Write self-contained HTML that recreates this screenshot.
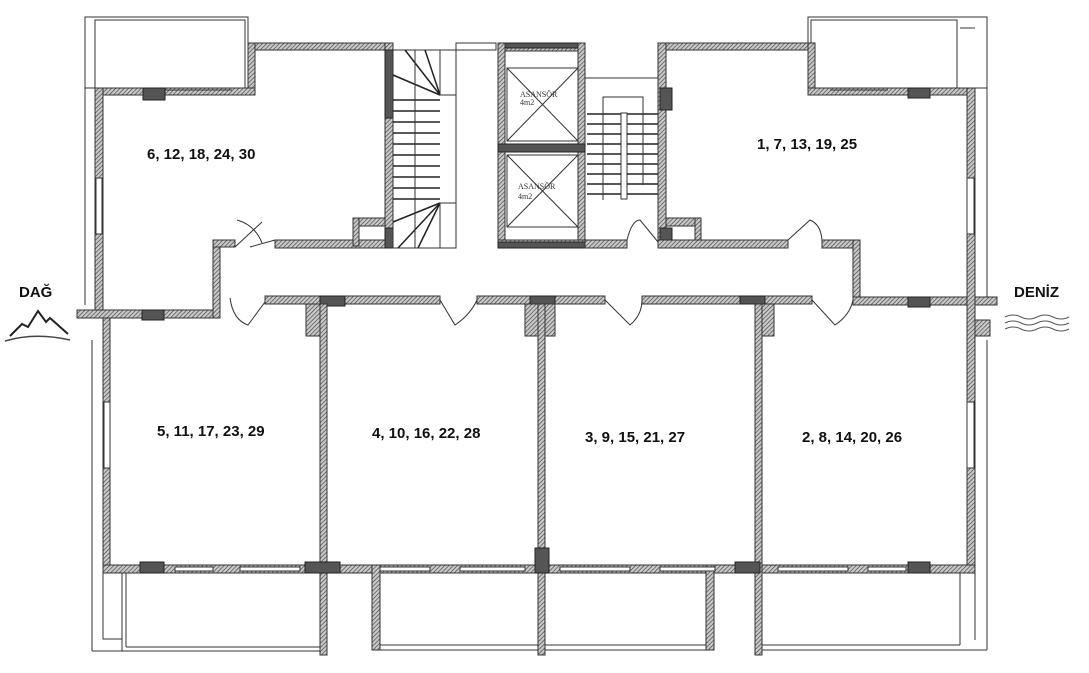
<!DOCTYPE html>
<html><head><meta charset="utf-8"><style>
html,body{margin:0;padding:0;background:#fff;}
svg{display:block}
.w{fill:url(#h);stroke:#333;stroke-width:1}
.c{fill:#555;stroke:#222;stroke-width:1}
.t{fill:none;stroke:#333;stroke-width:1}
.l{font-family:"Liberation Sans",sans-serif;font-weight:bold;font-size:15px;fill:#111}
.s{font-family:"Liberation Serif",serif;font-size:8px;fill:#333}
</style></head><body>
<svg width="1089" height="673" viewBox="0 0 1089 673" xmlns="http://www.w3.org/2000/svg">
<defs><pattern id="h" width="3" height="3" patternUnits="userSpaceOnUse" patternTransform="rotate(45)"><rect width="3" height="3" fill="#c8c8c8"/><line x1="0" y1="0" x2="0" y2="3" stroke="#444" stroke-width="1.3"/></pattern></defs>

<!-- balconies top -->
<rect class="t" x="85" y="17" width="163" height="71"/>
<rect class="t" x="95" y="20" width="150" height="68"/>
<line class="t" x1="85" y1="17" x2="85" y2="305"/>
<line class="t" x1="95" y1="20" x2="95" y2="88"/>
<rect class="t" x="808" y="17" width="179" height="71"/>
<rect class="t" x="811" y="20" width="146" height="68"/>
<line class="t" x1="987" y1="17" x2="987" y2="298"/>
<line class="t" x1="960" y1="28" x2="975" y2="28"/>

<!-- bottom balcony -->
<polyline class="t" points="103,573 103,639 122,639"/>
<line class="t" x1="122" y1="573" x2="122" y2="651"/>
<line class="t" x1="126" y1="573" x2="126" y2="647"/>
<line class="t" x1="92" y1="651" x2="322" y2="651"/>
<line class="t" x1="126" y1="647" x2="322" y2="647"/>
<line class="t" x1="380" y1="650" x2="706" y2="650"/>
<line class="t" x1="380" y1="645" x2="706" y2="645"/>
<line class="t" x1="762" y1="650" x2="987" y2="650"/>
<line class="t" x1="762" y1="645" x2="960" y2="645"/>
<line class="t" x1="960" y1="573" x2="960" y2="645"/>
<line class="t" x1="975" y1="573" x2="975" y2="640"/>
<line class="t" x1="987" y1="340" x2="987" y2="650"/>
<line class="t" x1="92" y1="340" x2="92" y2="651"/>

<!-- top-left unit -->
<rect class="w" x="248" y="43" width="140" height="7"/>
<rect class="w" x="248" y="43" width="7" height="52"/>
<rect class="w" x="95" y="88" width="160" height="7"/>
<rect class="w" x="95" y="88" width="8" height="230"/>
<rect class="w" x="77" y="310" width="143" height="8"/>
<rect class="w" x="213" y="240" width="7" height="78"/>
<rect class="w" x="213" y="240" width="22" height="7"/>
<rect class="w" x="275" y="240" width="113" height="8"/>
<rect class="w" x="385" y="43" width="8" height="205"/>
<rect class="w" x="353" y="218" width="32" height="8"/>
<rect class="w" x="353" y="218" width="6" height="28"/>
<rect class="c" x="385" y="50" width="8" height="68"/>
<rect class="c" x="385" y="228" width="8" height="20"/>
<rect class="c" x="143" y="88" width="22" height="12"/>
<rect class="c" x="142" y="310" width="22" height="10"/>
<rect x="96" y="178" width="6" height="56" fill="#fff" stroke="#333"/>
<line class="t" x1="165" y1="90" x2="232" y2="90"/>

<!-- left stair -->
<rect class="t" x="393" y="50" width="63" height="198"/>
<g stroke="#222" stroke-width="1.5">
<line x1="393" y1="100" x2="440" y2="100"/><line x1="393" y1="111" x2="440" y2="111"/><line x1="393" y1="122" x2="440" y2="122"/><line x1="393" y1="133" x2="440" y2="133"/><line x1="393" y1="144" x2="440" y2="144"/><line x1="393" y1="155" x2="440" y2="155"/><line x1="393" y1="166" x2="440" y2="166"/><line x1="393" y1="177" x2="440" y2="177"/><line x1="393" y1="188" x2="440" y2="188"/><line x1="393" y1="199" x2="440" y2="199"/>
<line x1="440" y1="95" x2="393" y2="75"/><line x1="440" y1="95" x2="405" y2="50"/><line x1="440" y1="95" x2="425" y2="50"/>
<line x1="440" y1="203" x2="393" y2="222"/><line x1="440" y1="203" x2="398" y2="248"/><line x1="440" y1="203" x2="418" y2="248"/>
</g>
<line class="t" x1="415" y1="50" x2="415" y2="248"/>
<rect class="t" x="440" y="50" width="16" height="45"/>
<rect class="t" x="440" y="203" width="16" height="45"/>
<rect class="t" x="456" y="43" width="40" height="7"/>

<!-- elevators -->
<rect class="w" x="498" y="43" width="87" height="8"/>
<rect class="c" x="498" y="43" width="87" height="5"/>
<rect class="w" x="498" y="43" width="7" height="205"/>
<rect class="w" x="578" y="43" width="7" height="205"/>
<rect class="c" x="498" y="144" width="87" height="8"/>
<rect class="w" x="498" y="240" width="87" height="8"/>
<rect class="c" x="498" y="242" width="87" height="6"/>
<rect class="t" x="507" y="68" width="71" height="73"/>
<line class="t" x1="507" y1="68" x2="578" y2="141"/><line class="t" x1="578" y1="68" x2="507" y2="141"/>
<rect class="t" x="507" y="155" width="71" height="72"/>
<line class="t" x1="507" y1="155" x2="578" y2="227"/><line class="t" x1="578" y1="155" x2="507" y2="227"/>
<text class="s" x="520" y="97">ASANSÖR</text><text class="s" x="520" y="105">4m2</text>
<text class="s" x="518" y="189">ASANSÖR</text><text class="s" x="518" y="199">4m2</text>

<!-- right stair -->
<line class="t" x1="585" y1="78" x2="658" y2="78"/>
<g stroke="#222" stroke-width="1.5">
<line x1="587" y1="114" x2="658" y2="114"/><line x1="587" y1="124" x2="658" y2="124"/><line x1="587" y1="134" x2="658" y2="134"/><line x1="587" y1="144" x2="658" y2="144"/><line x1="587" y1="154" x2="658" y2="154"/><line x1="587" y1="164" x2="658" y2="164"/><line x1="587" y1="174" x2="658" y2="174"/><line x1="587" y1="184" x2="658" y2="184"/><line x1="587" y1="194" x2="658" y2="194"/>
</g>
<rect x="621" y="113" width="6" height="86" fill="#fff" stroke="#333"/>
<polyline class="t" points="603,200 603,97 643,97 643,185"/>
<rect class="w" x="585" y="240" width="42" height="8"/>

<!-- top-right unit -->
<rect class="w" x="658" y="43" width="157" height="7"/>
<rect class="w" x="658" y="43" width="8" height="205"/>
<rect class="c" x="660" y="88" width="12" height="22"/>
<rect class="c" x="660" y="228" width="12" height="20"/>
<rect class="w" x="666" y="218" width="34" height="8"/>
<rect class="w" x="695" y="218" width="6" height="28"/>
<rect class="w" x="658" y="240" width="130" height="8"/>
<rect class="w" x="808" y="43" width="7" height="52"/>
<rect class="w" x="808" y="88" width="167" height="7"/>
<rect class="c" x="908" y="88" width="22" height="10"/>
<rect class="w" x="822" y="240" width="38" height="8"/>
<rect class="w" x="853" y="240" width="7" height="64"/>
<rect class="w" x="853" y="297" width="144" height="8"/>
<rect class="c" x="908" y="297" width="22" height="10"/>
<rect class="w" x="967" y="88" width="8" height="485"/>
<rect class="w" x="975" y="320" width="15" height="16"/>
<rect x="967" y="178" width="7" height="56" fill="#fff" stroke="#333"/>
<rect x="967" y="402" width="7" height="66" fill="#fff" stroke="#333"/>
<line class="t" x1="830" y1="90" x2="888" y2="90"/>

<!-- corridor bottom wall -->
<rect class="w" x="265" y="296" width="175" height="8"/>
<rect class="w" x="477" y="296" width="128" height="8"/>
<rect class="w" x="642" y="296" width="170" height="8"/>
<rect class="c" x="320" y="296" width="25" height="10"/>
<rect class="c" x="530" y="296" width="25" height="10"/>
<rect class="c" x="740" y="296" width="25" height="8"/>
<rect class="w" x="306" y="304" width="20" height="32"/>
<rect class="w" x="525" y="304" width="30" height="32"/>
<rect class="w" x="756" y="304" width="18" height="32"/>

<!-- doors -->
<g class="t">
<path d="M235 247 L262 222 M237 220 Q255 225 262 243"/>
<path d="M250 247 L275 240"/>
<path d="M230 298 Q233 320 248 325 L265 302"/>
<path d="M440 300 L455 325 Q470 315 477 300"/>
<path d="M605 300 L630 325 Q642 315 642 300"/>
<path d="M627 240 Q632 220 640 220 L658 242"/>
<path d="M788 240 L810 220 Q822 225 822 243"/>
<path d="M812 300 L835 325 Q850 315 853 300"/>
</g>

<!-- bottom units -->
<rect class="w" x="103" y="318" width="7" height="255"/>
<rect x="104" y="402" width="6" height="66" fill="#fff" stroke="#333"/>
<rect class="w" x="103" y="565" width="872" height="8"/>
<rect class="w" x="320" y="304" width="7" height="351"/>
<rect class="w" x="538" y="304" width="7" height="351"/>
<rect class="w" x="755" y="304" width="7" height="351"/>
<rect class="w" x="372" y="565" width="8" height="85"/>
<rect class="w" x="706" y="565" width="8" height="85"/>
<rect class="c" x="140" y="562" width="24" height="11"/>
<rect class="c" x="305" y="562" width="35" height="11"/>
<rect class="c" x="535" y="548" width="14" height="25"/>
<rect class="c" x="735" y="562" width="25" height="11"/>
<rect class="c" x="908" y="562" width="22" height="11"/>
<rect fill="#fff" stroke="#333" x="175" y="567" width="38" height="4"/>
<rect fill="#fff" stroke="#333" x="240" y="567" width="60" height="4"/>
<rect fill="#fff" stroke="#333" x="380" y="567" width="50" height="4"/>
<rect fill="#fff" stroke="#333" x="460" y="567" width="65" height="4"/>
<rect fill="#fff" stroke="#333" x="560" y="567" width="70" height="4"/>
<rect fill="#fff" stroke="#333" x="660" y="567" width="55" height="4"/>
<rect fill="#fff" stroke="#333" x="778" y="567" width="70" height="4"/>
<rect fill="#fff" stroke="#333" x="868" y="567" width="38" height="4"/>

<!-- labels -->
<text class="l" x="147" y="159">6, 12, 18, 24, 30</text>
<text class="l" x="757" y="149">1, 7, 13, 19, 25</text>
<text class="l" x="157" y="436">5, 11, 17, 23, 29</text>
<text class="l" x="372" y="438">4, 10, 16, 22, 28</text>
<text class="l" x="585" y="442">3, 9, 15, 21, 27</text>
<text class="l" x="802" y="442">2, 8, 14, 20, 26</text>
<text class="l" x="19" y="297" font-size="14">DAĞ</text>
<text class="l" x="1014" y="297" font-size="14">DENİZ</text>

<!-- mountain -->
<path d="M10 336 L22 324 L28 327 L38 311 L46 322 L50 318 L68 334" fill="none" stroke="#222" stroke-width="2"/>
<path d="M5 341 Q35 332 70 340" fill="none" stroke="#444" stroke-width="1.5"/>
<!-- waves -->
<g fill="none" stroke="#555" stroke-width="1">
<path d="M1005 317 q8 -4 16 0 t16 0 t16 0 t16 0"/>
<path d="M1005 323 q8 -4 16 0 t16 0 t16 0 t16 0"/>
<path d="M1005 329 q8 -4 16 0 t16 0 t16 0 t16 0"/>
</g>
</svg>
</body></html>
